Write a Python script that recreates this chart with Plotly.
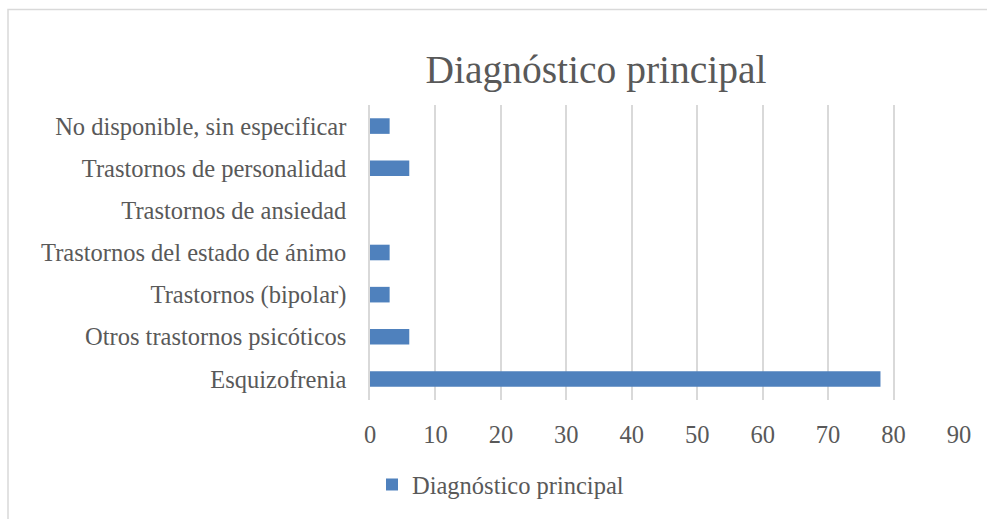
import plotly.graph_objects as go

# Categories listed bottom to top, as plotly draws them on a horizontal bar chart
categories = [
    "Esquizofrenia",
    "Otros trastornos psicóticos",
    "Trastornos (bipolar)",
    "Trastornos del estado de ánimo",
    "Trastornos de ansiedad",
    "Trastornos de personalidad",
    "No disponible, sin especificar",
]
values = [78, 6, 3, 3, 0, 6, 3]
x_ticks = [0, 10, 20, 30, 40, 50, 60, 70, 80, 90]

series_name = "Diagnóstico principal"
text_color = "#595959"
grid_color = "#d9d9d9"
font_family = "Liberation Serif, DejaVu Serif, serif"

fig = go.Figure()
fig.add_trace(go.Bar(
    x=values,
    y=categories,
    orientation="h",
    name=series_name,
    width=0.37,
    marker=dict(color="#4f81bd", line=dict(width=0)),
    showlegend=True,
))

fig.update_layout(
    width=987,
    height=519,
    paper_bgcolor="white",
    plot_bgcolor="white",
    font=dict(family=font_family, color=text_color, size=24.5),
    title=dict(
        text="Diagnóstico principal",
        x=596 / 987,
        xanchor="center",
        y=1 - 69 / 519,
        yanchor="middle",
        font=dict(size=39.5, color=text_color, family=font_family),
    ),
    margin=dict(l=370, r=28, t=105, b=114),
    xaxis=dict(
        range=[0, 90],
        tickvals=x_ticks,
        showgrid=True,
        gridcolor=grid_color,
        gridwidth=1.5,
        zeroline=False,
        showline=False,
        ticks="",
        ticklabelstandoff=17,
        fixedrange=True,
    ),
    yaxis=dict(
        showgrid=False,
        showline=True,
        linecolor=grid_color,
        linewidth=1.5,
        ticks="",
        ticklabelstandoff=17,
        range=[-0.5, 6.5],
        fixedrange=True,
    ),
    legend=dict(
        orientation="h",
        x=(372 - 370) / 589,
        xanchor="left",
        y=(405 - 491) / 300,
        yanchor="middle",
        font=dict(size=24.5, color=text_color),
        itemwidth=30,
    ),
)

# light chart-area border (only the top and left edges show in the frame)
fig.add_shape(
    type="rect",
    xref="paper", yref="paper",
    x0=(8 - 370) / 589, x1=(995 - 370) / 589,
    y0=(405 - 530) / 300, y1=(405 - 8) / 300,
    line=dict(color=grid_color, width=1.5),
    fillcolor="rgba(0,0,0,0)",
    layer="below",
)

# drop the browser's default body margin so the figure sits at the page origin
fig.write_html(
    "out.html",
    config={"displayModeBar": False},
    post_script="document.body.style.margin = '0';",
)
